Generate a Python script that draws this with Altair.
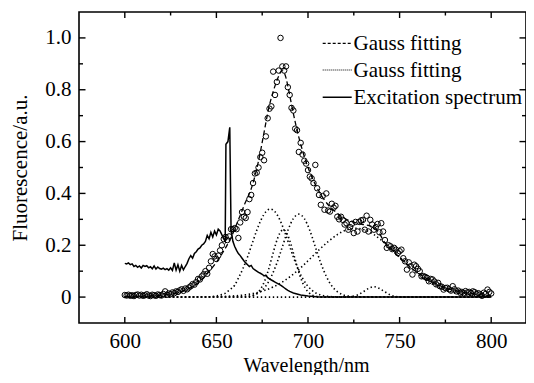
import altair as alt
import pandas as pd

FONT = "'Liberation Serif', 'Times New Roman', Times, serif"
W, H = 447, 311

# ---------------- data ----------------
wl_points = list(range(600, 801))
fluor_points = [
    0.008, 0.006, 0.009, 0.005, 0.007, 0.004, 0.008, 0.010, 0.006, 0.009,
    0.005, 0.007, 0.011, 0.006, 0.004, 0.009, 0.007, 0.005, 0.010, 0.008,
    0.006, 0.012, 0.022, 0.009, 0.014, 0.011, 0.018, 0.015, 0.022, 0.020,
    0.026, 0.030, 0.024, 0.033, 0.030, 0.037, 0.042, 0.050, 0.048, 0.058,
    0.070, 0.068, 0.080, 0.088, 0.100, 0.090, 0.113, 0.138, 0.166, 0.157,
    0.147, 0.160, 0.180, 0.200, 0.224, 0.232, 0.220, 0.234, 0.262, 0.262,
    0.266, 0.262, 0.228, 0.288, 0.328, 0.310, 0.305, 0.328, 0.378, 0.394,
    0.440, 0.477, 0.480, 0.500, 0.540, 0.557, 0.528, 0.620, 0.690, 0.727,
    0.736, 0.870, 0.780, 0.830, 0.874, 1.000, 0.890, 0.874, 0.890, 0.810,
    0.780, 0.730, 0.720, 0.650, 0.644, 0.560, 0.595, 0.550, 0.526, 0.515,
    0.490, 0.465, 0.458, 0.440, 0.510, 0.420, 0.394, 0.356, 0.390, 0.337,
    0.400, 0.334, 0.330, 0.360, 0.345, 0.352, 0.310, 0.300, 0.310, 0.298,
    0.280, 0.285, 0.260, 0.270, 0.283, 0.247, 0.290, 0.253, 0.290, 0.296,
    0.298, 0.260, 0.314, 0.253, 0.298, 0.280, 0.260, 0.270, 0.282, 0.250,
    0.285, 0.253, 0.220, 0.190, 0.200, 0.196, 0.185, 0.190, 0.183, 0.170,
    0.177, 0.183, 0.150, 0.138, 0.106, 0.134, 0.119, 0.087, 0.125, 0.119,
    0.109, 0.100, 0.080, 0.081, 0.078, 0.074, 0.061, 0.070, 0.068, 0.060,
    0.049, 0.055, 0.042, 0.040, 0.029, 0.035, 0.036, 0.030, 0.025, 0.042,
    0.030, 0.022, 0.025, 0.017, 0.020, 0.015, 0.023, 0.018, 0.020, 0.015,
    0.022, 0.019, 0.012, 0.015, 0.010, 0.005, 0.017, 0.012, 0.029, 0.020,
    0.014,
]

exc_wl = [600, 601, 602, 603, 604, 605, 606, 607, 608, 609, 610, 611, 612, 613,
          614, 615, 616, 617, 618, 619, 620, 621, 622, 623, 624, 625, 626, 627,
          628, 629, 630, 631, 632, 633, 634, 635, 636, 637, 638, 639, 640, 641,
          642, 643, 644, 645, 646, 647, 648, 649, 650, 651, 652, 653, 654, 654.8,
          655.2, 656.3, 657.3, 658.0, 659, 660, 661, 662, 663, 664, 665, 666, 667,
          668, 669, 670, 671, 672, 673, 674, 675, 676, 677, 678, 679, 680, 681,
          682, 683, 684, 685, 686, 687, 688, 689, 690, 692, 694, 696, 698, 700,
          703, 706, 800]
exc_val = [0.130, 0.128, 0.132, 0.125, 0.128, 0.118, 0.122, 0.115, 0.120, 0.112,
           0.122, 0.118, 0.121, 0.113, 0.117, 0.109, 0.120, 0.108, 0.116, 0.110,
           0.108, 0.112, 0.106, 0.110, 0.104, 0.113, 0.103, 0.132, 0.104, 0.125,
           0.100, 0.122, 0.105, 0.118, 0.130, 0.148, 0.160, 0.150, 0.168, 0.175,
           0.185, 0.190, 0.200, 0.205, 0.215, 0.238, 0.225, 0.250, 0.232, 0.255,
           0.240, 0.262, 0.255, 0.240, 0.225, 0.215, 0.590, 0.600, 0.655, 0.260,
           0.215, 0.195, 0.180, 0.168, 0.160, 0.150, 0.140, 0.132, 0.125, 0.118,
           0.122, 0.110, 0.105, 0.100, 0.095, 0.092, 0.088, 0.082, 0.085, 0.075,
           0.070, 0.066, 0.062, 0.058, 0.054, 0.050, 0.046, 0.041, 0.036, 0.031,
           0.026, 0.022, 0.016, 0.012, 0.008, 0.006, 0.004, 0.002, 0.0, 0.0]

fit_wl = [600, 610, 620, 625, 630, 635, 640, 645, 650, 655, 658, 662, 665.5,
          669.4, 673.1, 675.9, 678.7, 681.5, 683.9, 685.8, 687.6, 689.5, 691.3,
          693.6, 696.4, 699.2, 702, 705.6, 710.3, 715.9, 721.5, 727, 730.8,
          734.5, 738.2, 742, 747.5, 753.1, 758.7, 764.2, 771.7, 779.2, 788.5, 800]
fit_val = [0.003, 0.004, 0.008, 0.012, 0.020, 0.033, 0.055, 0.090, 0.135, 0.190,
           0.230, 0.298, 0.360, 0.426, 0.529, 0.631, 0.733, 0.804, 0.851, 0.874,
           0.855, 0.797, 0.733, 0.657, 0.580, 0.516, 0.465, 0.413, 0.362, 0.324,
           0.298, 0.285, 0.279, 0.273, 0.253, 0.209, 0.170, 0.132, 0.100, 0.074,
           0.045, 0.027, 0.014, 0.005]

g1_wl = [600, 645, 650, 652, 655, 657, 660, 662, 664.5, 667, 669.5, 672, 674.5,
         677, 679.5, 682, 684.5, 687, 689.5, 692, 694.5, 697, 699.5, 702, 704.5,
         707, 709.5, 715, 800]
g1_val = [0, 0.001, 0.004, 0.008, 0.015, 0.027, 0.046, 0.073, 0.110, 0.155, 0.206,
          0.257, 0.300, 0.329, 0.340, 0.329, 0.300, 0.257, 0.206, 0.155, 0.110,
          0.073, 0.046, 0.027, 0.015, 0.008, 0.004, 0.001, 0]

g2_wl = [600, 664.5, 668.5, 670.5, 672.5, 674.5, 676.5, 678.5, 680.5, 682.5,
         684.5, 686.5, 688.5, 690.5, 692.5, 694.5, 696.5, 698.5, 700.5, 702.5,
         704.5, 708.5, 800]
g2_val = [0, 0, 0.003, 0.007, 0.017, 0.035, 0.065, 0.107, 0.158, 0.208, 0.245,
          0.260, 0.245, 0.208, 0.158, 0.107, 0.065, 0.035, 0.017, 0.007, 0.003,
          0, 0]

g3_wl = [600, 663, 668, 671, 674, 677, 680, 683, 686, 689, 692, 695, 698, 701,
         704, 707, 710, 713, 716, 719, 722, 727, 800]
g3_val = [0, 0.001, 0.004, 0.009, 0.021, 0.043, 0.080, 0.131, 0.194, 0.257,
          0.303, 0.320, 0.303, 0.257, 0.194, 0.131, 0.080, 0.043, 0.021, 0.009,
          0.004, 0.001, 0]

g4_wl = [600, 646, 656, 666, 671, 676, 681, 686, 691, 696, 701, 706, 711, 716,
         721, 726, 731, 736, 741, 746, 751, 756, 761, 766, 771, 776, 781, 786,
         796, 800]
g4_val = [0, 0.001, 0.003, 0.009, 0.015, 0.025, 0.039, 0.058, 0.083, 0.113,
          0.147, 0.182, 0.214, 0.241, 0.259, 0.265, 0.259, 0.241, 0.214, 0.182,
          0.147, 0.113, 0.083, 0.058, 0.039, 0.025, 0.015, 0.009, 0.003, 0.002]

g5_wl = [600, 721, 724, 727, 730, 733, 736, 739, 742, 745, 748, 751, 800]
g5_val = [0, 0, 0.0022, 0.008, 0.020, 0.033, 0.040, 0.033, 0.020, 0.008, 0.0022,
          0, 0]

x_major = [600, 650, 700, 750, 800]
x_minor = [625, 675, 725, 775]
y_major = [0, 0.2, 0.4, 0.6, 0.8, 1.0]
y_minor = [0.1, 0.3, 0.5, 0.7, 0.9]
legend_labels = ["Gauss fitting", "Gauss fitting", "Excitation spectrum"]

# ---------------- tables ----------------
pts = pd.DataFrame({"wl": wl_points, "v": fluor_points})
exc = pd.DataFrame({"wl": exc_wl, "v": exc_val})
fit = pd.DataFrame({"wl": fit_wl, "v": fit_val})
comps = []
for name, xs, ys in [("g1", g1_wl, g1_val), ("g2", g2_wl, g2_val),
                     ("g3", g3_wl, g3_val), ("g4", g4_wl, g4_val),
                     ("g5", g5_wl, g5_val)]:
    comps.append(pd.DataFrame({"wl": xs, "v": ys, "c": name}))
comp = pd.concat(comps, ignore_index=True)

xscale = alt.Scale(domain=[575, 819], nice=False, zero=False)
yscale = alt.Scale(domain=[-0.1, 1.1], nice=False, zero=False)

x_axis = alt.Axis(
    values=x_major, ticks=False, tickSize=0, domain=False, grid=False,
    labelFont=FONT, labelFontSize=21, labelColor="black", labelPadding=24,
    labelBaseline="alphabetic", labelFlush=False,
    title="Wavelength/nm", titleFont=FONT, titleFontSize=20,
    titleFontWeight="normal", titleColor="black", titleX=227, titleY=48,
    titleBaseline="alphabetic", titleAlign="center",
)
y_axis = alt.Axis(
    values=y_major, ticks=False, tickSize=0, domain=False, grid=False,
    labelFont=FONT, labelFontSize=21, labelColor="black", labelPadding=8,
    labelExpr="datum.value == 0 ? '0' : format(datum.value, '.1f')",
    labelFlush=False,
    title="Fluorescence/a.u.", titleFont=FONT, titleFontSize=21,
    titleFontWeight="normal", titleColor="black", titleX=-53, titleY=H / 2,
    titleBaseline="alphabetic", titleAlign="center", titleAngle=270,
)


def X(field):
    return alt.X(field, scale=xscale, axis=x_axis)


def Y(field):
    return alt.Y(field, scale=yscale, axis=y_axis)


comp_layer = alt.Chart(comp).mark_line(
    color="black", strokeWidth=1.6, strokeDash=[1.4, 2.6], interpolate="monotone"
).encode(x=X("wl:Q"), y=Y("v:Q"), detail="c:N")

fit_layer = alt.Chart(fit).mark_line(
    color="black", strokeWidth=1.3, strokeDash=[5, 3], interpolate="monotone"
).encode(x=X("wl:Q"), y=Y("v:Q"))

exc_layer = alt.Chart(exc).mark_line(color="black", strokeWidth=1.5).encode(
    x=X("wl:Q"), y=Y("v:Q"))

pts_layer = alt.Chart(pts).mark_point(
    shape="circle", filled=False, size=30, strokeWidth=1, color="black", opacity=1
).encode(x=X("wl:Q"), y=Y("v:Q"))


def xticks(vals, y0, y1):
    return alt.Chart(pd.DataFrame({"wl": vals})).mark_rule(
        color="black", strokeWidth=1.4
    ).encode(x=X("wl:Q"), y=alt.value(y0), y2=alt.value(y1))


def yticks(vals, x0, x1):
    return alt.Chart(pd.DataFrame({"v": vals})).mark_rule(
        color="black", strokeWidth=1.4
    ).encode(y=Y("v:Q"), x=alt.value(x0), x2=alt.value(x1))


tick_layers = [
    xticks(x_major, H, H - 6), xticks(x_minor, H, H - 3.5),
    xticks(x_major, 0, 6), xticks(x_minor, 0, 3.5),
    yticks(y_major, 0, 6.5), yticks(y_minor, 0, 4),
    yticks(y_major, W, W - 6.5), yticks(y_minor, W, W - 4),
]

# manual legend
leg_dashes = [[3, 2], [1, 1], [1, 0]]
leg_line_y = [31.3, 58.0, 85.3]
leg_text_y = [37.5, 64.5, 92.0]
legend_layers = []
for i in range(3):
    d = pd.DataFrame({"label": [legend_labels[i]]})
    legend_layers.append(
        alt.Chart(d).mark_rule(color="black", strokeWidth=1.2 if i < 2 else 1.4,
                               strokeDash=leg_dashes[i]).encode(
            x=alt.value(243.7), x2=alt.value(272.7), y=alt.value(leg_line_y[i])
        )
    )
    legend_layers.append(
        alt.Chart(d).mark_text(align="left", baseline="alphabetic", font=FONT,
                               fontSize=21, color="black").encode(
            x=alt.value(274.5), y=alt.value(leg_text_y[i]), text="label:N"
        )
    )

chart = alt.layer(
    comp_layer, fit_layer, exc_layer, pts_layer, *tick_layers, *legend_layers
).properties(
    width=W, height=H,
    padding={"left": 71, "top": 4, "right": 0, "bottom": 52},
    autosize=alt.AutoSizeParams(type="none"),
).configure_view(stroke="black", strokeWidth=1.6)

chart.save("out.html", embed_options={"renderer": "svg", "actions": False})
